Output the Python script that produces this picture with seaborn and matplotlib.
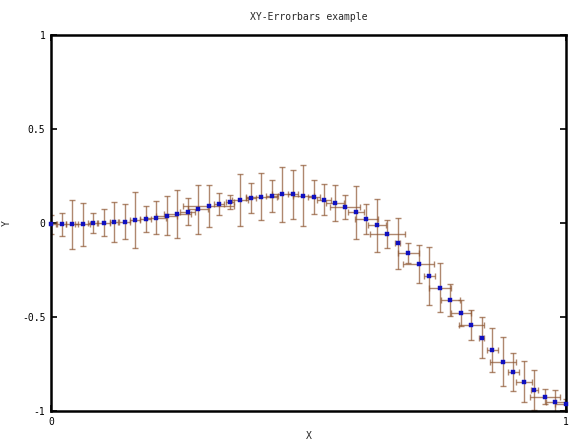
import numpy as np
import pandas as pd
import matplotlib
matplotlib.use("Agg")
import matplotlib.pyplot as plt
import seaborn as sns

x = [0.0, 0.0204, 0.0408, 0.0612, 0.0816, 0.102, 0.1224, 0.1429, 0.1633, 0.1837,
     0.2041, 0.2245, 0.2449, 0.2653, 0.2857, 0.3061, 0.3265, 0.3469, 0.3673, 0.3878,
     0.4082, 0.4286, 0.449, 0.4694, 0.4898, 0.5102, 0.5306, 0.551, 0.5714, 0.5918,
     0.6122, 0.6327, 0.6531, 0.6735, 0.6939, 0.7143, 0.7347, 0.7551, 0.7755, 0.7959,
     0.8163, 0.8367, 0.8571, 0.8776, 0.898, 0.9184, 0.9388, 0.9592, 0.9796, 1.0]
y = [-0.007, -0.007, -0.007, -0.007, 0.0, 0.002, 0.004, 0.007, 0.016, 0.021,
     0.028, 0.039, 0.048, 0.06, 0.073, 0.09, 0.101, 0.112, 0.122, 0.135,
     0.14, 0.146, 0.153, 0.153, 0.146, 0.14, 0.124, 0.106, 0.084, 0.056,
     0.021, -0.013, -0.057, -0.108, -0.161, -0.218, -0.281, -0.344, -0.411, -0.48,
     -0.543, -0.611, -0.674, -0.737, -0.793, -0.844, -0.889, -0.924, -0.954, -0.964]
yerr = [0.05, 0.062, 0.13, 0.116, 0.053, 0.073, 0.106, 0.094, 0.15, 0.068,
        0.089, 0.102, 0.126, 0.073, 0.129, 0.113, 0.057, 0.037, 0.137, 0.08,
        0.125, 0.085, 0.146, 0.13, 0.164, 0.09, 0.083, 0.095, 0.064, 0.143,
        0.08, 0.139, 0.075, 0.135, 0.053, 0.102, 0.155, 0.13, 0.086, 0.069,
        0.078, 0.109, 0.117, 0.128, 0.101, 0.11, 0.106, 0.039, 0.066, 0.03]
xerr = [0.01, 0.008, 0.012, 0.015, 0.01, 0.012, 0.008, 0.01, 0.01, 0.01,
        0.019, 0.02, 0.026, 0.014, 0.019, 0.05, 0.01, 0.008, 0.015, 0.01,
        0.03, 0.012, 0.02, 0.01, 0.02, 0.012, 0.014, 0.017, 0.029, 0.015,
        0.022, 0.018, 0.034, 0.005, 0.021, 0.03, 0.011, 0.021, 0.019, 0.02,
        0.024, 0.005, 0.011, 0.026, 0.01, 0.016, 0.006, 0.03, 0.019, 0.021]

title = "XY-Errorbars example"
yticks = [-1, -0.5, 0, 0.5, 1]
yticklabels = ["-1", "-0.5", "0", "0.5", "1"]
xticks = [0, 1]
xticklabels = ["0", "1"]

df = pd.DataFrame({"X": x, "Y": y, "xerr": xerr, "yerr": yerr})

sns.set_theme(style="white")
plt.rcParams["font.family"] = ["DejaVu Sans Mono", "DejaVu Sans"]

fig = plt.figure(figsize=(5.73, 4.42), dpi=100)
ax = fig.add_axes([51 / 573, 1 - 411 / 442, (566 - 51) / 573, (411 - 35) / 442])

ax.errorbar(df["X"], df["Y"], xerr=df["xerr"], yerr=df["yerr"], fmt="none",
            ecolor="#8e5632", elinewidth=1.0, capsize=2.2, capthick=1.0,
            alpha=0.7, zorder=2)
sns.scatterplot(data=df, x="X", y="Y", ax=ax, marker="s", s=9, color="#1010c0",
                edgecolor="#1010c0", linewidth=0.3, zorder=3, clip_on=False)

ax.set_xlim(0, 1)
ax.set_ylim(-1, 1)
ax.set_xticks(xticks)
ax.set_xticklabels(xticklabels)
ax.set_yticks(yticks)
ax.set_yticklabels(yticklabels)
ax.tick_params(axis="both", which="major", direction="in", length=4, width=1.2,
               labelsize=7, top=True, right=True, bottom=True, left=True,
               colors="black", pad=4)
for sp in ax.spines.values():
    sp.set_visible(True)
    sp.set_color("black")
    sp.set_linewidth(1.8)

ax.set_title(title, fontsize=7, pad=11)
ax.set_xlabel("X", fontsize=7, labelpad=3)
ax.set_ylabel("Y", fontsize=7, labelpad=7)

fig.savefig("out.png", dpi=100)
